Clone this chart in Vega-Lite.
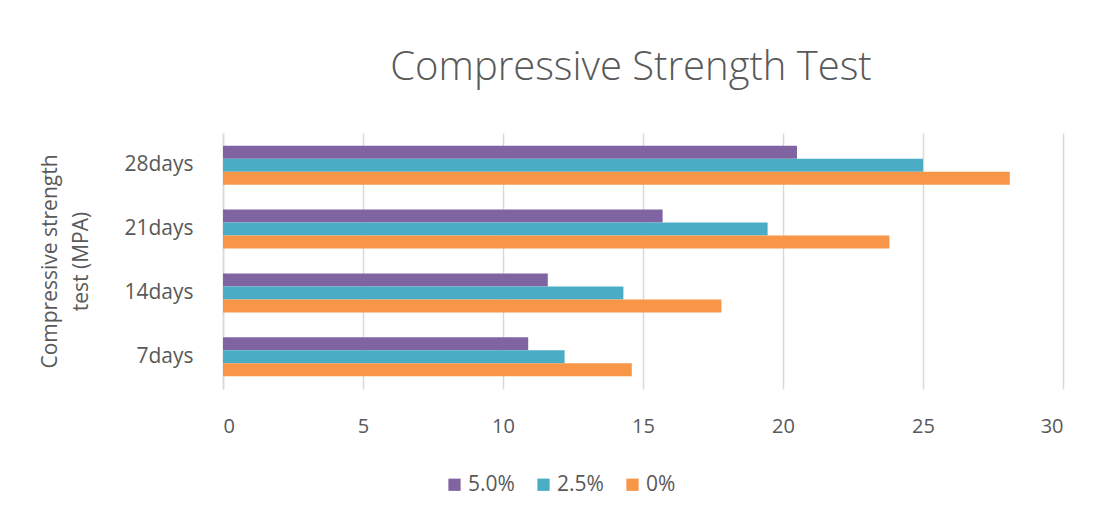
{
  "$schema": "https://vega.github.io/schema/vega-lite/v6.json",
  "autosize": {"type": "none"},
  "padding": {"left": 223, "top": 133, "right": 38, "bottom": 140},
  "width": 840,
  "height": 256,
  "background": "white",
  "title": {
    "text": "Compressive Strength Test",
    "font": "Open Sans",
    "fontWeight": 300,
    "fontSize": 40,
    "color": "#595959",
    "anchor": "middle",
    "offset": 45,
    "dx": -12
  },
  "data": {
    "values": [
      {"age": "28days", "mix": "5.0%", "strength": 20.5},
      {"age": "28days", "mix": "2.5%", "strength": 25.0},
      {"age": "28days", "mix": "0%", "strength": 28.1},
      {"age": "21days", "mix": "5.0%", "strength": 15.7},
      {"age": "21days", "mix": "2.5%", "strength": 19.45},
      {"age": "21days", "mix": "0%", "strength": 23.8},
      {"age": "14days", "mix": "5.0%", "strength": 11.6},
      {"age": "14days", "mix": "2.5%", "strength": 14.3},
      {"age": "14days", "mix": "0%", "strength": 17.8},
      {"age": "7days", "mix": "5.0%", "strength": 10.9},
      {"age": "7days", "mix": "2.5%", "strength": 12.2},
      {"age": "7days", "mix": "0%", "strength": 14.6}
    ]
  },
  "mark": {"type": "bar"},
  "encoding": {
    "y": {
      "field": "age",
      "type": "nominal",
      "sort": ["28days", "21days", "14days", "7days"],
      "scale": {"paddingInner": 0.39, "paddingOuter": 0.2},
      "axis": {
        "title": ["Compressive  strength", "test (MPA)"],
        "titleFont": "Open Sans",
        "titleFontWeight": "normal",
        "titleFontSize": 21,
        "titleColor": "#595959",
        "titleLineHeight": 31,
        "titlePadding": 32,
        "labelFont": "Open Sans",
        "labelFontSize": 21,
        "labelColor": "#595959",
        "labelPadding": 30,
        "ticks": false,
        "domain": true,
        "domainColor": "#d9d9d9",
        "domainWidth": 1.5,
        "grid": false
      }
    },
    "yOffset": {
      "field": "mix",
      "type": "nominal",
      "sort": ["5.0%", "2.5%", "0%"],
      "scale": {"paddingInner": 0, "paddingOuter": 0}
    },
    "x": {
      "field": "strength",
      "type": "quantitative",
      "scale": {"domain": [0, 30], "nice": false},
      "axis": {
        "title": null,
        "values": [0, 5, 10, 15, 20, 25, 30],
        "labelFont": "Open Sans",
        "labelFontSize": 20,
        "labelColor": "#595959",
        "labelPadding": 27,
        "ticks": false,
        "domain": false,
        "grid": true,
        "gridColor": "#d9d9d9",
        "gridWidth": 1.5
      }
    },
    "color": {
      "field": "mix",
      "type": "nominal",
      "sort": ["5.0%", "2.5%", "0%"],
      "scale": {"domain": ["5.0%", "2.5%", "0%"], "range": ["#8064A2", "#4BACC6", "#F79646"]},
      "legend": {
        "title": null,
        "orient": "none",
        "direction": "horizontal",
        "legendX": 221,
        "legendY": 341,
        "symbolType": "square",
        "symbolSize": 150,
        "symbolStrokeWidth": 0,
        "labelFont": "Open Sans",
        "labelFontSize": 21,
        "labelColor": "#595959",
        "labelOffset": 3,
        "columnPadding": 18
      }
    }
  },
  "config": {"view": {"stroke": null}}
}
